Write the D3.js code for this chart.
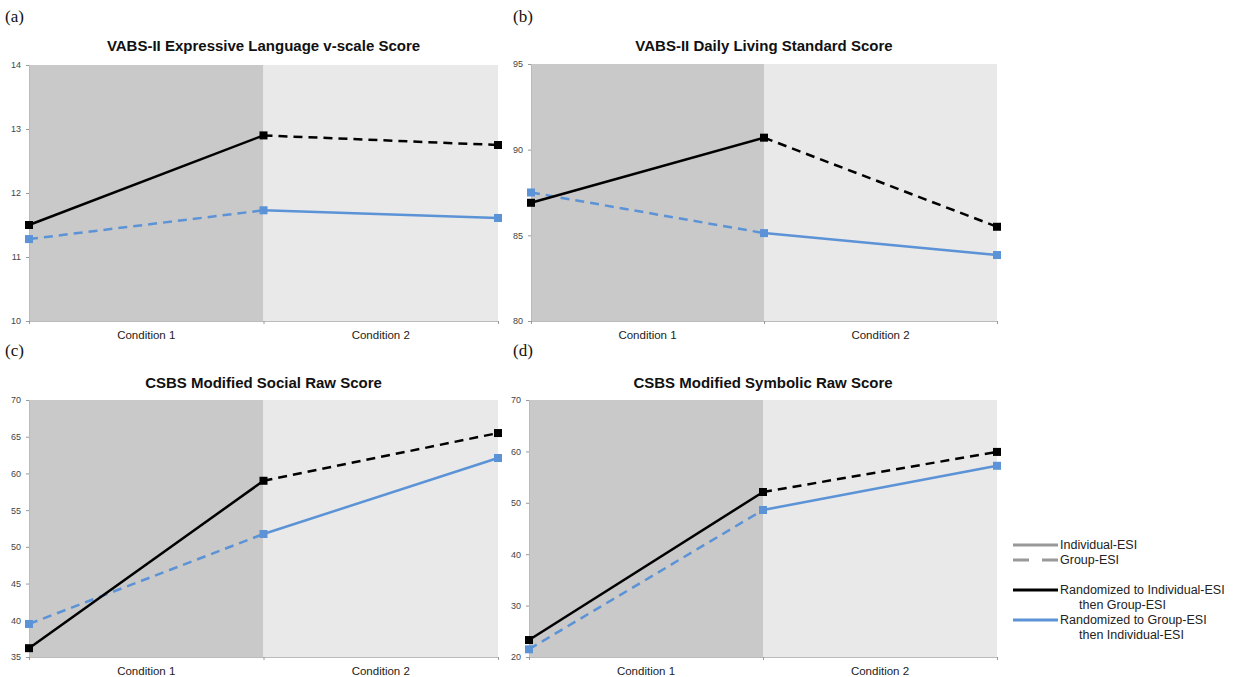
<!DOCTYPE html>
<html>
<head>
<meta charset="utf-8">
<script src="https://cdn.jsdelivr.net/npm/d3@7"></script>
<style>
  body { margin: 0; background: #fff; }
  text { font-family: "Liberation Sans", Arial, sans-serif; }
</style>
</head>
<body>
<script>
var W = 1234, H = 677;

// data
var conditions = ["Condition 1", "Condition 2"];
var timePoints = [0, 1, 2];
var titles = [
  "VABS-II Expressive Language v-scale Score",
  "VABS-II Daily Living Standard Score",
  "CSBS Modified Social Raw Score",
  "CSBS Modified Symbolic Raw Score"
];
var letters = ["(a)", "(b)", "(c)", "(d)"];
var yDomains = [[10, 14], [80, 95], [35, 70], [20, 70]];
var yTicks = [[10, 11, 12, 13, 14], [80, 85, 90, 95], [35, 40, 45, 50, 55, 60, 65, 70], [20, 30, 40, 50, 60, 70]];
var indivFirst = [[11.5, 12.9, 12.75], [86.9, 90.7, 85.5], [36.2, 59.0, 65.5], [23.3, 52.1, 59.9]];
var groupFirst = [[11.28, 11.73, 11.61], [87.5, 85.13, 83.85], [39.5, 51.75, 62.1], [21.5, 48.6, 57.2]];

var legendStyle = ["Individual-ESI", "Group-ESI"];
var legendGroups = [["Randomized to Individual-ESI", "then Group-ESI"], ["Randomized to Group-ESI", "then Individual-ESI"]];

var panels = [
  { x0: 29, x1: 498, y0: 65, y1: 321, lx: 5, ly: 22, ty: 51 },
  { x0: 531, x1: 997, y0: 64, y1: 321, lx: 513, ly: 22, ty: 51 },
  { x0: 29, x1: 498, y0: 400, y1: 657, lx: 5, ly: 356, ty: 388 },
  { x0: 529, x1: 997, y0: 400, y1: 657, lx: 513, ly: 356, ty: 388 }
];

var BLACK = "#000", BLUE = "#5b93d6";

var svg = d3.select("body").append("svg").attr("width", W).attr("height", H);

panels.forEach(function(p, k) {
  var x = d3.scaleLinear().domain([0, 2]).range([p.x0, p.x1]);
  var y = d3.scaleLinear().domain(yDomains[k]).range([p.y1, p.y0]);
  var g = svg.append("g");

  // background regions
  g.append("rect").attr("x", x(0)).attr("y", p.y0).attr("width", x(1) - x(0)).attr("height", p.y1 - p.y0).attr("fill", "#c9c9c9");
  g.append("rect").attr("x", x(1)).attr("y", p.y0).attr("width", x(2) - x(1)).attr("height", p.y1 - p.y0).attr("fill", "#e9e9e9");

  // axes
  var ya = d3.axisLeft(y).tickValues(yTicks[k]).tickFormat(d3.format("d")).tickSize(3).tickPadding(5);
  var yg = g.append("g").attr("transform", "translate(" + p.x0 + ",0)").call(ya);
  var xa = d3.axisBottom(x).tickValues(timePoints).tickSize(3).tickFormat("");
  var xg = g.append("g").attr("transform", "translate(0," + p.y1 + ")").call(xa);
  [yg, xg].forEach(function(a) {
    a.select(".domain").attr("stroke", "#bbb");
    a.selectAll(".tick line").attr("stroke", "#999");
    a.selectAll("text").attr("fill", "#444").style("font-size", "9px");
  });

  conditions.forEach(function(c, i) {
    g.append("text").attr("x", (x(i) + x(i + 1)) / 2).attr("y", p.y1 + 18)
      .attr("text-anchor", "middle").style("font-size", "11.5px").attr("fill", "#222").text(c);
  });

  g.append("text").attr("x", (p.x0 + p.x1) / 2).attr("y", p.ty).attr("text-anchor", "middle")
    .style("font-size", "15px").style("font-weight", "bold").attr("fill", "#111").text(titles[k]);
  g.append("text").attr("x", p.lx).attr("y", p.ly).style("font-family", "'Liberation Serif', serif")
    .style("font-size", "17px").attr("fill", "#111").text(letters[k]);

  var line = d3.line().x(function(d) { return x(d[0]); }).y(function(d) { return y(d[1]); });

  function drawSeries(vals, color, firstDashed) {
    var pts = timePoints.map(function(t, i) { return [t, vals[i]]; });
    g.append("path").datum(pts.slice(0, 2)).attr("d", line).attr("fill", "none")
      .attr("stroke", color).attr("stroke-width", 2.5).attr("stroke-dasharray", firstDashed ? "9,6" : null);
    g.append("path").datum(pts.slice(1, 3)).attr("d", line).attr("fill", "none")
      .attr("stroke", color).attr("stroke-width", 2.5).attr("stroke-dasharray", firstDashed ? null : "9,6");
    g.selectAll(null).data(pts).enter().append("rect")
      .attr("x", function(d) { return x(d[0]) - 4; }).attr("y", function(d) { return y(d[1]) - 4; })
      .attr("width", 8).attr("height", 8).attr("fill", color);
  }
  drawSeries(groupFirst[k], BLUE, true);
  drawSeries(indivFirst[k], BLACK, false);
});

// legend
var lg = svg.append("g");
var lx0 = 1013, lx1 = 1058;
legendStyle.forEach(function(t, i) {
  var yy = 545 + i * 15;
  lg.append("line").attr("x1", lx0).attr("x2", lx1).attr("y1", yy).attr("y2", yy)
    .attr("stroke", "#999").attr("stroke-width", 3).attr("stroke-dasharray", i ? "16,13" : null);
  lg.append("text").attr("x", lx1 + 2).attr("y", yy + 4).style("font-size", "12.5px").attr("fill", "#222").text(t);
});
legendGroups.forEach(function(t, i) {
  var yy = 590 + i * 30;
  lg.append("line").attr("x1", lx0).attr("x2", lx1).attr("y1", yy).attr("y2", yy)
    .attr("stroke", i ? BLUE : BLACK).attr("stroke-width", 3);
  lg.append("text").attr("x", lx1 + 2).attr("y", yy + 4).style("font-size", "12.5px").attr("fill", "#222").text(t[0]);
  lg.append("text").attr("x", lx1 + 21).attr("y", yy + 19).style("font-size", "12.5px").attr("fill", "#222").text(t[1]);
});
</script>
</body>
</html>
